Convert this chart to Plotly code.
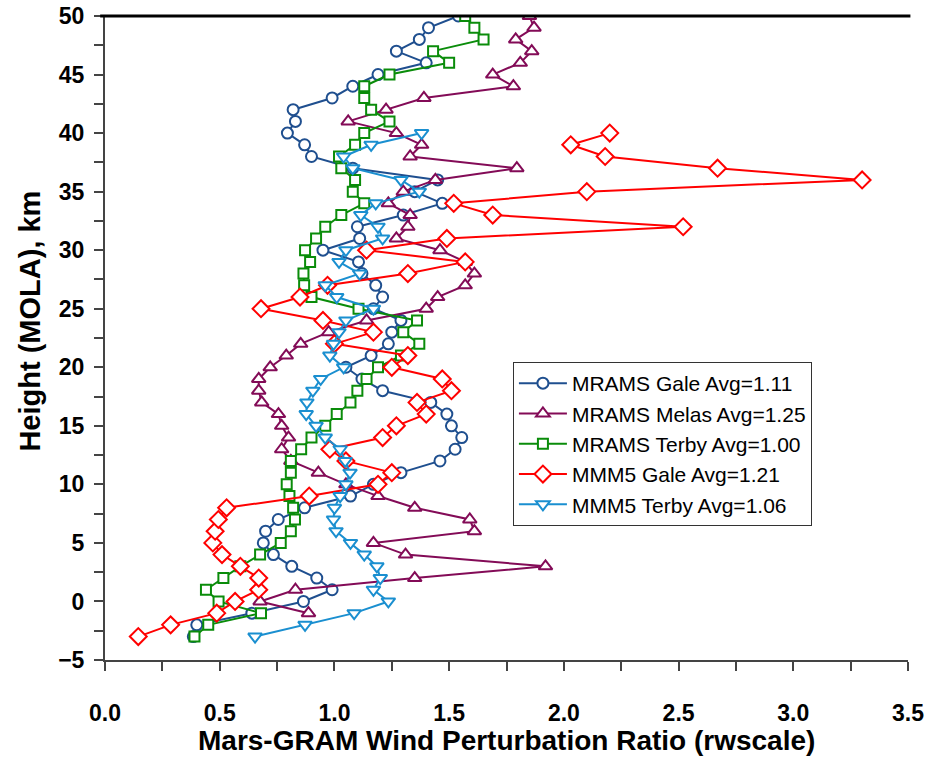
import plotly.graph_objects as go

HEIGHTS = [-3, -2, -1, 0, 1, 2, 3, 4, 5, 6, 7, 8, 9, 10, 11, 12, 13, 14, 15, 16,
           17, 18, 19, 20, 21, 22, 23, 24, 25, 26, 27, 28, 29, 30, 31, 32, 33, 34,
           35, 36, 37, 38, 39, 40, 41, 42, 43, 44, 45, 46, 47, 48, 49, 50]

mrams_gale_h = HEIGHTS
mrams_gale = [0.385, 0.40, 0.64, 0.865, 0.99, 0.923, 0.814, 0.734, 0.69, 0.70,
              0.755, 0.87, 1.07, 1.17, 1.29, 1.46, 1.526, 1.555, 1.51, 1.49,
              1.42, 1.21, 1.12, 1.05, 1.16, 1.235, 1.25, 1.29, 1.17, 1.21,
              1.18, 1.12, 1.105, 0.95, 1.11, 1.10, 1.30, 1.47, 1.35, 1.45,
              1.08, 0.90, 0.87, 0.795, 0.83, 0.82, 0.99, 1.08, 1.19, 1.40,
              1.27, 1.37, 1.41, 1.54]

mrams_melas_h = HEIGHTS[2:]
mrams_melas = [0.887, 0.676, 0.83, 1.35, 1.92, 1.31, 1.17, 1.61, 1.59, 1.35,
               1.19, 1.05, 0.93, 0.81, 0.77, 0.80, 0.77, 0.756, 0.683, 0.67,
               0.67, 0.72, 0.79, 0.853, 0.975, 1.14, 1.40, 1.45, 1.57, 1.61,
               1.57, 1.46, 1.27, 1.32, 1.33, 1.235, 1.30, 1.44, 1.795, 1.33,
               1.38, 1.27, 1.06, 1.225, 1.39, 1.78, 1.69, 1.81, 1.86, 1.79,
               1.87, 1.85]

mrams_terby_h = HEIGHTS
mrams_terby = [0.39, 0.45, 0.68, 0.495, 0.44, 0.516, 0.59, 0.676, 0.766, 0.81,
               0.828, 0.82, 0.804, 0.792, 0.81, 0.81, 0.855, 0.90, 0.96, 1.01,
               1.07, 1.10, 1.14, 1.19, 1.29, 1.37, 1.30, 1.36, 1.105, 0.90,
               0.868, 0.865, 0.894, 0.872, 0.92, 0.96, 1.03, 1.13, 1.08, 1.09,
               1.03, 1.02, 1.09, 1.13, 1.24, 1.16, 1.13, 1.13, 1.24, 1.50,
               1.43, 1.65, 1.61, 1.57]

mmm5_gale_h = HEIGHTS[:44]
mmm5_gale = [0.145, 0.286, 0.487, 0.567, 0.67, 0.67, 0.59, 0.51, 0.47, 0.48,
             0.494, 0.53, 0.89, 1.19, 1.25, 1.05, 0.98, 1.21, 1.27, 1.40,
             1.36, 1.51, 1.47, 1.25, 1.32, 1.00, 1.17, 0.95, 0.68, 0.85,
             0.97, 1.32, 1.57, 1.14, 1.49, 2.52, 1.69, 1.52, 2.10, 3.30,
             2.67, 2.18, 2.03, 2.20]

mmm5_terby_h = HEIGHTS[:44]
mmm5_terby = [0.654, 0.872, 1.086, 1.235, 1.17, 1.20, 1.185, 1.13, 1.07, 1.007,
              0.996, 1.0, 1.025, 1.05, 1.068, 1.047, 1.025, 0.96, 0.92, 0.877,
              0.88, 0.906, 0.94, 1.04, 0.98, 0.996, 1.02, 1.05, 1.17, 1.01,
              0.96, 1.11, 1.02, 1.05, 1.21, 1.19, 1.115, 1.18, 1.37, 1.29,
              1.08, 1.04, 1.16, 1.38]

series = [
    ("MRAMS Gale Avg=1.11", mrams_gale, mrams_gale_h, "#1F4F8F", "circle", 11),
    ("MRAMS Melas Avg=1.25", mrams_melas, mrams_melas_h, "#830B57", "triangle-up", 12),
    ("MRAMS Terby Avg=1.00", mrams_terby, mrams_terby_h, "#0A8C0A", "square", 10),
    ("MMM5 Gale Avg=1.21", mmm5_gale, mmm5_gale_h, "#FF0000", "diamond", 13),
    ("MMM5 Terby Avg=1.06", mmm5_terby, mmm5_terby_h, "#1A8FD0", "triangle-down", 12),
]

FONT = "Liberation Sans, Arial, sans-serif"

fig = go.Figure()
for name, xs, ys, color, sym, size in series:
    fig.add_trace(go.Scatter(
        x=xs, y=ys, name=name, mode="lines+markers",
        line=dict(color=color, width=2),
        marker=dict(symbol=sym, size=size, color="white",
                    line=dict(color=color, width=2)),
    ))

axis_common = dict(
    showgrid=False, zeroline=False, showline=True, linecolor="#444444",
    linewidth=2, ticks="outside", ticklen=9, tickwidth=2, tickcolor="#444444",
    tickfont=dict(family=FONT, size=23, color="black", weight="bold"),
    automargin=False,
)

fig.update_xaxes(range=[0, 3.5], dtick=0.5, tick0=0, tickformat=".1f",
                 minor=dict(dtick=0.25, ticklen=9, tickwidth=2, tickcolor="#444444", ticks="outside"),
                 ticklabelstandoff=22, **axis_common)
fig.update_yaxes(range=[-5, 50], dtick=5, tick0=0,
                 minor=dict(dtick=2.5, ticklen=9, tickwidth=2, tickcolor="#444444", ticks="outside"),
                 ticklabelstandoff=5, **axis_common)

fig.update_layout(
    width=933, height=757,
    margin=dict(l=105, r=25, t=16, b=97, autoexpand=False),
    paper_bgcolor="white", plot_bgcolor="white",
    font=dict(family=FONT, color="black"),
    showlegend=True,
    legend=dict(
        x=0.508, y=0.4627, xanchor="left", yanchor="top",
        bgcolor="white", bordercolor="#333333", borderwidth=1,
        font=dict(family=FONT, size=21, color="black"),
        itemwidth=48, tracegroupgap=0,
    ),
    shapes=[dict(type="line", xref="paper", yref="paper", x0=-0.006, x1=1.003, y0=1, y1=1,
                 line=dict(color="black", width=3))],
    annotations=[
        dict(text="Mars-GRAM Wind Perturbation Ratio (rwscale)", xref="paper", yref="paper",
             x=0.5, y=-0.1245, xanchor="center", yanchor="middle", showarrow=False,
             font=dict(family=FONT, size=28, color="black", weight="bold")),
        dict(text="Height (MOLA), km", xref="paper", yref="paper",
             x=-0.093, y=0.526, xanchor="center", yanchor="middle", showarrow=False,
             textangle=-90,
             font=dict(family=FONT, size=29, color="black", weight="bold")),
    ],
)

fig.write_html("out.html")
